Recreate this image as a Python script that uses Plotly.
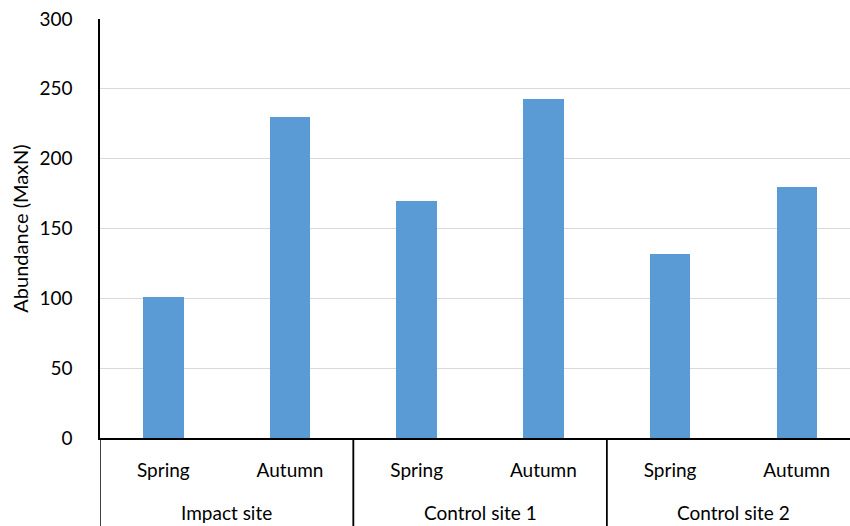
import plotly.graph_objects as go

# Abundance (MaxN) per site and season
sites = ["Impact site", "Impact site", "Control site 1", "Control site 1",
         "Control site 2", "Control site 2"]
seasons = ["Spring", "Autumn", "Spring", "Autumn", "Spring", "Autumn"]
abundance = [101, 230, 170, 243, 132, 180]

y_ticks = [0, 50, 100, 150, 200, 250, 300]

FONT = "Lato"
TEXT = "#000000"
BAR_BLUE = "#5B9BD5"

positions = list(range(len(seasons)))

fig = go.Figure(
    go.Bar(
        x=positions,
        y=abundance,
        marker=dict(color=BAR_BLUE, line=dict(width=0)),
        width=0.32,
        hovertext=[f"{s}, {p}" for s, p in zip(sites, seasons)],
    )
)

# Group the season bars under their site: one label per site, centred on its
# bars, with dividers at the group boundaries extending below the axis.
groups = []
for i, s in enumerate(sites):
    if not groups or groups[-1][0] != s:
        groups.append([s, i, i])
    else:
        groups[-1][2] = i

for name, first, last in groups:
    fig.add_annotation(
        x=(first + last) / 2, xref="x",
        y=0, yref="paper", yanchor="middle", yshift=-74,
        text=name, showarrow=False,
        font=dict(family=FONT, size=19, color=TEXT),
    )

for name, first, last in groups:
    for edge in (first - 0.5, last + 0.5):
        fig.add_shape(
            type="line", xref="x", yref="paper",
            x0=edge, x1=edge, y0=0, y1=-0.3,
            line=dict(color="#000000", width=1.5),
            layer="above",
        )

fig.update_layout(
    width=850,
    height=526,
    margin=dict(l=100, r=0, t=19, b=88),
    paper_bgcolor="white",
    plot_bgcolor="white",
    showlegend=False,
    bargap=0,
    font=dict(family=FONT, size=19, color=TEXT),
)

fig.update_xaxes(
    range=[-0.5, 5.42],
    tickvals=positions,
    ticktext=seasons,
    showline=True,
    linecolor="#000000",
    linewidth=1.5,
    showgrid=False,
    zeroline=False,
    ticks="",
    ticklabelstandoff=14,
    tickfont=dict(family=FONT, size=19, color=TEXT),
)

fig.update_yaxes(
    range=[0, 300],
    tickvals=y_ticks,
    ticktext=[str(v) for v in y_ticks],
    showline=True,
    linecolor="#000000",
    linewidth=1.5,
    showgrid=True,
    gridcolor="#D9D9D9",
    gridwidth=1.3,
    zeroline=False,
    ticks="",
    ticklabelstandoff=22,
    tickfont=dict(family=FONT, size=19, color=TEXT),
    title=dict(text="Abundance (MaxN)", font=dict(family=FONT, size=20, color=TEXT),
               standoff=5),
)

fig.write_html("out.html")
